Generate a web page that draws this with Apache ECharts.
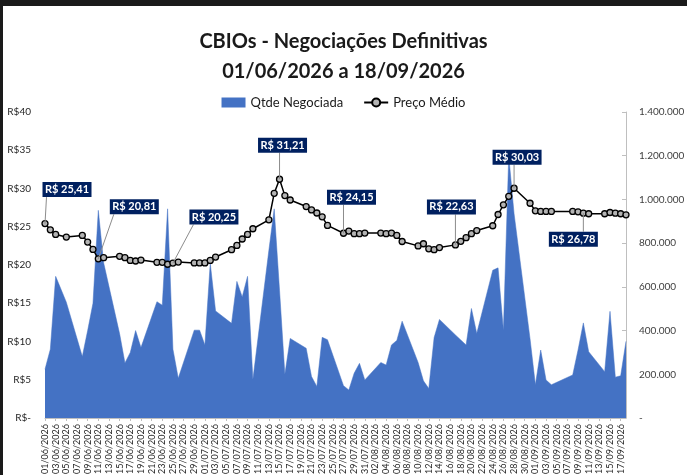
<!DOCTYPE html>
<html>
<head>
<meta charset="utf-8">
<script src="https://cdn.jsdelivr.net/npm/echarts@6/dist/echarts.min.js"></script>
<style>
html,body{margin:0;padding:0;background:#fff;}
#chart{width:687px;height:475px;}
</style>
</head>
<body>
<div id="chart"></div>
<script>
// Business days with trades (dd/mm)
const tradeDates = [
 '01/06','02/06','03/06','05/06','08/06','09/06','10/06','11/06','12/06','15/06','16/06','17/06','18/06','19/06','22/06','23/06','24/06','25/06','26/06','29/06','30/06',
 '01/07','02/07','03/07','06/07','07/07','08/07','09/07','10/07','13/07','14/07','15/07','16/07','17/07','20/07','21/07','22/07','23/07','24/07','27/07','28/07','29/07','30/07','31/07',
 '03/08','04/08','05/08','06/08','07/08','10/08','11/08','12/08','13/08','14/08','17/08','18/08','19/08','20/08','21/08','24/08','25/08','26/08','27/08','28/08','31/08',
 '01/09','02/09','03/09','04/09','08/09','09/09','10/09','11/09','14/09','15/09','16/09','17/09','18/09'
];
// Preço Médio (R$)
const precoMedio = [
 25.41,24.60,24.00,23.65,23.87,23.00,22.04,20.81,20.96,21.13,20.96,20.60,20.52,20.65,20.35,20.35,20.10,20.25,20.38,20.27,20.27,
 20.27,20.60,21.04,22.00,22.56,23.40,24.00,24.74,25.90,29.37,31.21,29.07,28.50,27.64,27.20,26.80,26.30,25.17,24.15,24.43,24.10,24.10,24.17,
 24.17,24.10,24.17,23.86,23.07,22.50,22.78,22.12,22.00,22.28,22.63,23.09,23.57,24.09,24.50,25.13,26.60,27.86,28.98,30.03,28.07,
 27.08,27.00,27.00,27.00,27.00,26.95,26.78,26.70,26.70,26.86,26.77,26.70,26.56
];
// Qtde Negociada
const qtdeNegociada = [
 223000,315000,648000,530000,281000,400000,525000,950000,710000,385000,252000,300000,400000,322000,532000,516000,957000,315000,182000,402000,402000,
 334000,708000,490000,433000,625000,554000,648000,176000,767000,957000,584000,200000,364000,319000,190000,144000,369000,358000,148000,128000,205000,250000,174000,
 254000,242000,334000,355000,443000,254000,170000,135000,368000,451000,380000,357000,334000,501000,387000,676000,687000,402000,1200000,935000,362000,
 152000,311000,174000,152000,197000,311000,435000,303000,212000,488000,187000,193000,351000
];
// Data labels shown on the price line
const labeledDates = ['01/06','11/06','25/06','15/07','27/07','17/08','28/08','10/09'];
const labelOffsets = [[22,-34],[36,-52],[41,-46],[3,-34],[8,-36],[-4,-38],[3,-31],[-10,26]];

// full calendar axis 01/06/2026 .. 18/09/2026
const categories = [];
{
  const d = new Date(Date.UTC(2026,5,1));
  const end = new Date(Date.UTC(2026,8,18));
  while (d <= end) {
    const dd = String(d.getUTCDate()).padStart(2,'0');
    const mm = String(d.getUTCMonth()+1).padStart(2,'0');
    categories.push(dd + '/' + mm + '/2026');
    d.setUTCDate(d.getUTCDate()+1);
  }
}
const idxOf = {};
tradeDates.forEach((t,i)=>{ idxOf[t + '/2026'] = i; });
const priceData = categories.map(c => idxOf[c] !== undefined ? precoMedio[idxOf[c]] : null);
const qtyData = categories.map(c => idxOf[c] !== undefined ? qtdeNegociada[idxOf[c]] : null);

function fmtThousands(v){
  return String(v).replace(/\B(?=(\d{3})+(?!\d))/g, '.');
}

const FONT = 'Lato, "Open Sans", sans-serif';
const chart = echarts.init(document.getElementById('chart'), null, {renderer:'canvas'});
const option = {
  animation: false,
  backgroundColor: '#ffffff',
  title: {
    text: 'CBIOs - Negociações Definitivas\n01/06/2026 a 18/09/2026',
    left: 'center',
    top: 22,
    textStyle: {fontFamily: FONT, fontSize: 20, fontWeight: 'bold', color: '#1a1a1a', lineHeight: 30}
  },
  legend: {
    top: 91,
    left: 'center',
    itemWidth: 24,
    itemHeight: 10,
    itemGap: 20,
    textStyle: {fontFamily: FONT, fontSize: 13, color: '#1a1a1a'},
    data: [
      {name: 'Qtde Negociada', icon: 'rect'},
      {name: 'Preço Médio'}
    ]
  },
  grid: {left: 45, width: 581, top: 112, bottom: 57, containLabel: false, outerBoundsMode: 'none'},
  xAxis: {
    type: 'category',
    data: categories,
    boundaryGap: false,
    axisLine: {show: true, lineStyle: {color: '#bfbfbf'}},
    axisTick: {show: true, interval: 1, length: 3, lineStyle: {color: '#bfbfbf'}},
    axisLabel: {interval: 1, rotate: 90, fontSize: 9, fontFamily: FONT, color: '#262626', margin: 6}
  },
  yAxis: [
    {
      type: 'value', min: 0, max: 40, interval: 5,
      splitLine: {show: false},
      axisLine: {show: false},
      axisTick: {show: false},
      axisLabel: {
        fontSize: 10, fontFamily: FONT, color: '#262626', margin: 14,
        formatter: v => v === 0 ? 'R$-' : 'R$' + v
      }
    },
    {
      type: 'value', min: 0, max: 1400000, interval: 200000,
      position: 'right',
      splitLine: {show: false},
      axisLine: {show: true, lineStyle: {color: '#bfbfbf'}},
      axisTick: {show: true, inside: true, length: 4, lineStyle: {color: '#bfbfbf'}},
      axisLabel: {
        fontSize: 10, fontFamily: FONT, color: '#404040', margin: 13,
        formatter: v => v === 0 ? '-' : fmtThousands(v)
      }
    }
  ],
  series: [
    {
      name: 'Qtde Negociada',
      type: 'line',
      yAxisIndex: 1,
      data: qtyData,
      connectNulls: true,
      symbol: 'none',
      color: '#4472C4',
      lineStyle: {width: 0.5, color: '#4472C4'},
      areaStyle: {color: '#4472C4', opacity: 1},
      z: 1
    },
    {
      name: 'Preço Médio',
      type: 'line',
      yAxisIndex: 0,
      data: priceData,
      connectNulls: true,
      symbol: 'circle',
      symbolSize: 6,
      showSymbol: true,
      showAllSymbol: true,
      color: '#000000',
      lineStyle: {width: 1.5, color: '#000000'},
      itemStyle: {color: '#b4b4b4', borderColor: '#000000', borderWidth: 1.3},
      z: 3
    }
  ]
};
chart.setOption(option);

// data label boxes with leader lines, positioned from the library's scales
const g = [];
labeledDates.forEach((ld, k) => {
  const full = ld + '/2026';
  const ci = categories.indexOf(full);
  const val = precoMedio[idxOf[full]];
  const p = chart.convertToPixel({seriesIndex: 1}, [ci, val]);
  const w = 49, h = 15;
  const cx = p[0] + labelOffsets[k][0], cy = p[1] + labelOffsets[k][1];
  const left = cx - w/2, top = cy - h/2;
  const ex = Math.min(Math.max(p[0], left + 4), left + w - 4);
  const ey = labelOffsets[k][1] < 0 ? top + h : top;
  g.push({type:'line', z: 50, shape:{x1:p[0], y1:p[1], x2:ex, y2:ey}, style:{stroke:'#8c8c8c', lineWidth:1}});
  g.push({type:'rect', z: 51, shape:{x:left, y:top, width:w, height:h}, style:{fill:'#002060'}});
  g.push({type:'text', z: 52, x: cx, y: cy, style:{
    text: 'R$ ' + val.toFixed(2).replace('.', ','),
    fill:'#ffffff', font: 'bold 11px ' + FONT, align:'center', verticalAlign:'middle'
  }});
});
// frame edges of the original picture
g.push({type:'rect', z: 60, shape:{x:0, y:0, width:687, height:6}, style:{fill:'#1a1a1a'}});
g.push({type:'rect', z: 60, shape:{x:0, y:0, width:3, height:475}, style:{fill:'#1a1a1a'}});
chart.setOption({graphic: g});
</script>
</body>
</html>
